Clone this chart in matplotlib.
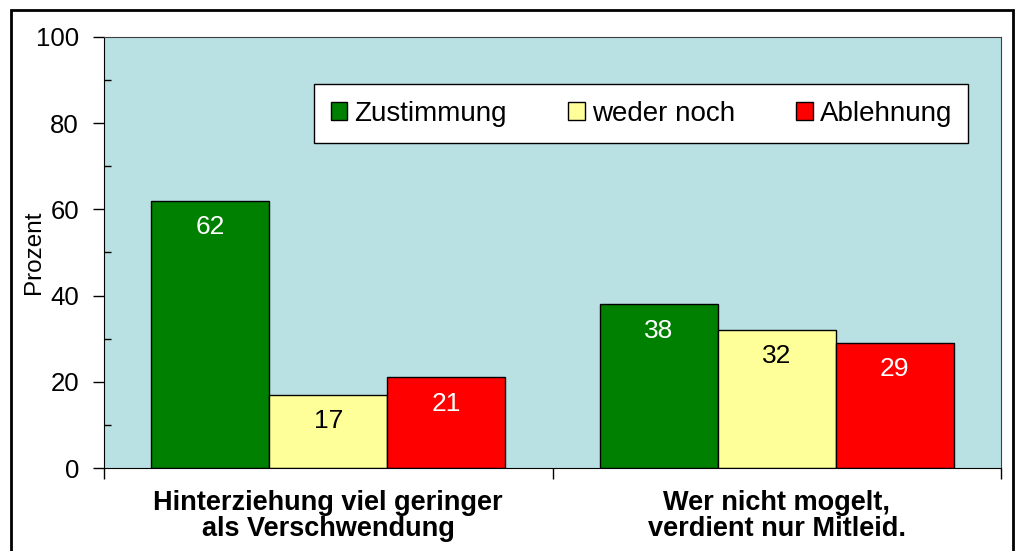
import numpy as np
import matplotlib
matplotlib.use("Agg")
from matplotlib import pyplot as plt
from matplotlib.patches import Patch, Rectangle

plt.rcParams['font.family'] = ['Liberation Sans', 'DejaVu Sans']

categories = ['Hinterziehung viel geringer\nals Verschwendung',
              'Wer nicht mogelt,\nverdient nur Mitleid.']
series = ['Zustimmung', 'weder noch', 'Ablehnung']
zustimmung = [62, 38]
weder_noch = [17, 32]
ablehnung = [21, 29]

colors = ['#008000', '#FFFF99', '#FF0000']
text_colors = ['white', 'black', 'white']

fig = plt.figure(figsize=(10.15, 5.51), dpi=100)
ax = fig.add_axes([104/1015, 83/551, 897/1015, 431/551])
ax.set_facecolor('#B9E0E3')

# outer frame around the chart
fig.patches.append(Rectangle((11/1015, -0.05), 1002/1015, 0.05 + 541/551,
                             transform=fig.transFigure, fill=False,
                             edgecolor='black', linewidth=2))

x = np.arange(len(categories))
w = 0.263
values = [zustimmung, weder_noch, ablehnung]
for i, vals in enumerate(values):
    pos = x + (i - 1) * w
    ax.bar(pos, vals, w, color=colors[i], edgecolor='black', linewidth=1, zorder=2)
    for p, v in zip(pos, vals):
        ax.annotate(str(v), (p, v), xytext=(0, -19), textcoords='offset points',
                    ha='center', va='center', fontsize=19, color=text_colors[i], zorder=3)

ax.set_xlim(-0.5, 1.5)
ax.set_ylim(0, 100)
ax.set_yticks(np.arange(0, 101, 20))
ax.set_yticks(np.arange(10, 100, 20), minor=True)
ax.tick_params(axis='y', which='major', direction='out', length=8, width=1,
               labelsize=18.5, pad=10)
ax.tick_params(axis='y', which='minor', direction='in', length=5, width=1)

ax.set_xticks(x)
ax.set_xticklabels(categories, fontsize=19.5, fontweight='bold', linespacing=1.0)
ax.set_xticks([-0.5, 0.5, 1.5], minor=True)
ax.tick_params(axis='x', which='major', length=0, pad=16)
ax.tick_params(axis='x', which='minor', direction='out', length=8, width=1)

ax.set_ylabel('Prozent', fontsize=17.5)
ax.yaxis.set_label_coords(-0.066, 0.5)

for s in ['left', 'bottom']:
    ax.spines[s].set_color('black')
for s in ['top', 'right']:
    ax.spines[s].set_color('#404040')

handles = [Patch(facecolor=c, edgecolor='black', linewidth=1) for c in colors]
leg = ax.legend(handles, series, loc='center', bbox_to_anchor=(0.599, 0.8225),
                ncol=3, fontsize=20, frameon=True, fancybox=False, framealpha=1,
                edgecolor='black', handlelength=0.6, handleheight=0.6,
                handletextpad=0.25, columnspacing=2.2, borderpad=0.6)
leg.get_frame().set_linewidth(1)

fig.savefig('out.png', dpi=100)
